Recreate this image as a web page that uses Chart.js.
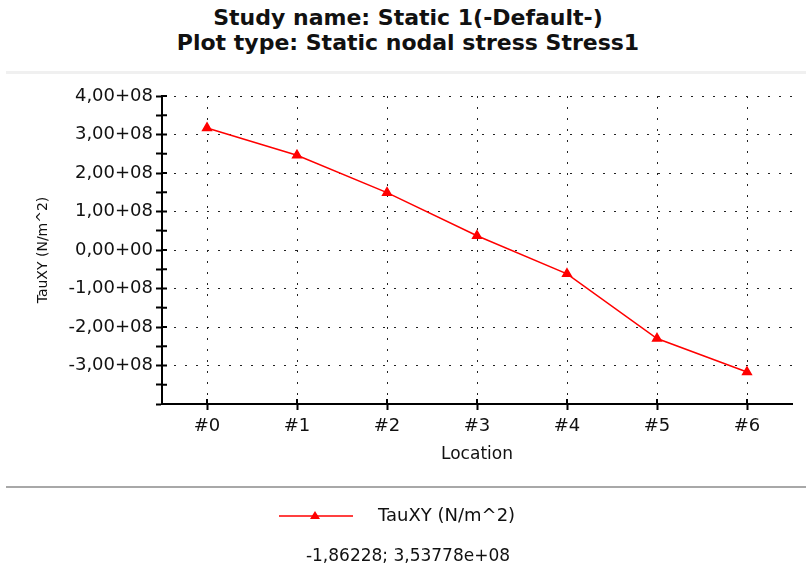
<!DOCTYPE html>
<html>
<head>
<meta charset="utf-8">
<script src="https://cdn.jsdelivr.net/npm/chart.js@4"></script>
<style>
  body { margin: 0; background: #fff; font-family: "DejaVu Sans", sans-serif; color: #111; }
  #wrap { position: relative; width: 806px; height: 569px; overflow: hidden; }
  #chart { position: absolute; left: 0; top: 0; }
  .title { position: absolute; left: 0; width: 816px; text-align: center; font-weight: bold; font-size: 22px; }
  .sep { position: absolute; left: 6px; width: 800px; }
  #legend { position: absolute; left: 279px; top: 504px; height: 24px; font-size: 18px; }
  #coords { position: absolute; left: 0; width: 816px; top: 545px; text-align: center; font-size: 17px; }
</style>
</head>
<body>
<div id="wrap">
  <div class="title" style="top:5px">Study name: Static 1(-Default-)</div>
  <div class="title" style="top:30px">Plot type: Static nodal stress Stress1</div>
  <div class="sep" style="top:71px;height:3px;background:#f0f0f0"></div>
  <canvas id="chart" width="806" height="569"></canvas>
  <div class="sep" style="top:486px;height:2px;background:#a8a8a8"></div>
  <div id="legend">
    <svg width="74" height="24" style="position:absolute;left:0;top:0">
      <line x1="0" y1="12" x2="74" y2="12" stroke="#ff0000" stroke-width="1.5"/>
      <polygon points="36,7 41,15 31,15" fill="#ff0000"/>
    </svg>
    <span style="position:absolute;left:99px;top:0;white-space:nowrap">TauXY (N/m^2)</span>
  </div>
  <div id="coords">-1,86228; 3,53778e+08</div>
</div>
<script>
// values
var locations = ['#0', '#1', '#2', '#3', '#4', '#5', '#6'];
var tauXY = [3.17e8, 2.46e8, 1.49e8, 0.37e8, -0.62e8, -2.30e8, -3.17e8];
var seriesName = 'TauXY (N/m^2)';
var yMin = -4e8, yMax = 4e8;

// 4,00+08 style labels
function fmt(v) {
    if (v === 0) return '0,00+00';
    var e = Math.floor(Math.log10(Math.abs(v)) + 1e-9);
    var m = v / Math.pow(10, e);
    return m.toFixed(2).replace('.', ',') + (e >= 0 ? '+' : '-') + String(Math.abs(e)).padStart(2, '0');
}
function isMajor(v) { return Math.abs(v % 1e8) < 1; }

// the tick marks cross the axis, so draw the inner half too
var innerTicks = {
    id: 'innerTicks',
    afterDraw: function (c) {
        var ctx = c.ctx, x = c.scales.x, y = c.scales.y;
        ctx.save();
        ctx.strokeStyle = '#000';
        ctx.lineWidth = 2;
        ctx.beginPath();
        y.ticks.forEach(function (t, i) {
            var py = y.getPixelForTick(i);
            ctx.moveTo(y.right, py);
            ctx.lineTo(y.right + 5, py);
        });
        x.ticks.forEach(function (t, i) {
            var px = x.getPixelForTick(i);
            ctx.moveTo(px, x.top);
            ctx.lineTo(px, x.top - 5);
        });
        ctx.stroke();
        ctx.restore();
    }
};

var chart = new Chart(document.getElementById('chart'), {
    type: 'line',
    data: {
        labels: locations,
        datasets: [{
            label: seriesName,
            data: tauXY,
            borderColor: '#ff0000',
            backgroundColor: '#ff0000',
            borderWidth: 1.5,
            pointStyle: 'triangle',
            pointRadius: 5,
            tension: 0
        }]
    },
    plugins: [innerTicks],
    options: {
        responsive: false,
        animation: false,
        layout: { padding: { top: 96, right: 14, left: 35, bottom: 100 } },
        plugins: { legend: { display: false }, tooltip: { enabled: false } },
        scales: {
            x: {
                type: 'category',
                offset: true,
                afterFit: function (s) { s.height = 65; },
                grid: { color: '#222', lineWidth: 1, tickLength: 6, tickColor: '#000', tickWidth: 2, tickBorderDash: [] },
                border: { display: true, color: '#000', width: 2, dash: [2, 9] },
                ticks: { color: '#111', padding: 6, font: { family: 'DejaVu Sans', size: 18 } },
                title: { display: true, text: 'Location', color: '#111', padding: { top: 2 }, font: { family: 'DejaVu Sans', size: 17 } }
            },
            y: {
                min: yMin,
                max: yMax,
                afterFit: function (s) { s.width = 127; },
                grid: {
                    color: function (c) { return c.tick && isMajor(c.tick.value) ? '#222' : 'rgba(0,0,0,0)'; },
                    lineWidth: 1, tickLength: 6, tickColor: '#000', tickWidth: 2, tickBorderDash: []
                },
                border: { display: true, color: '#000', width: 2, dash: [2, 9] },
                ticks: {
                    stepSize: 5e7,
                    autoSkip: false,
                    padding: 3,
                    color: '#111',
                    font: { family: 'DejaVu Sans', size: 18 },
                    callback: function (v) { return isMajor(v) && v !== yMin ? fmt(v) : ''; }
                },
                title: { display: true, text: seriesName, color: '#111', padding: 0, font: { family: 'DejaVu Sans', size: 14 } }
            }
        }
    }
});
</script>
</body>
</html>
